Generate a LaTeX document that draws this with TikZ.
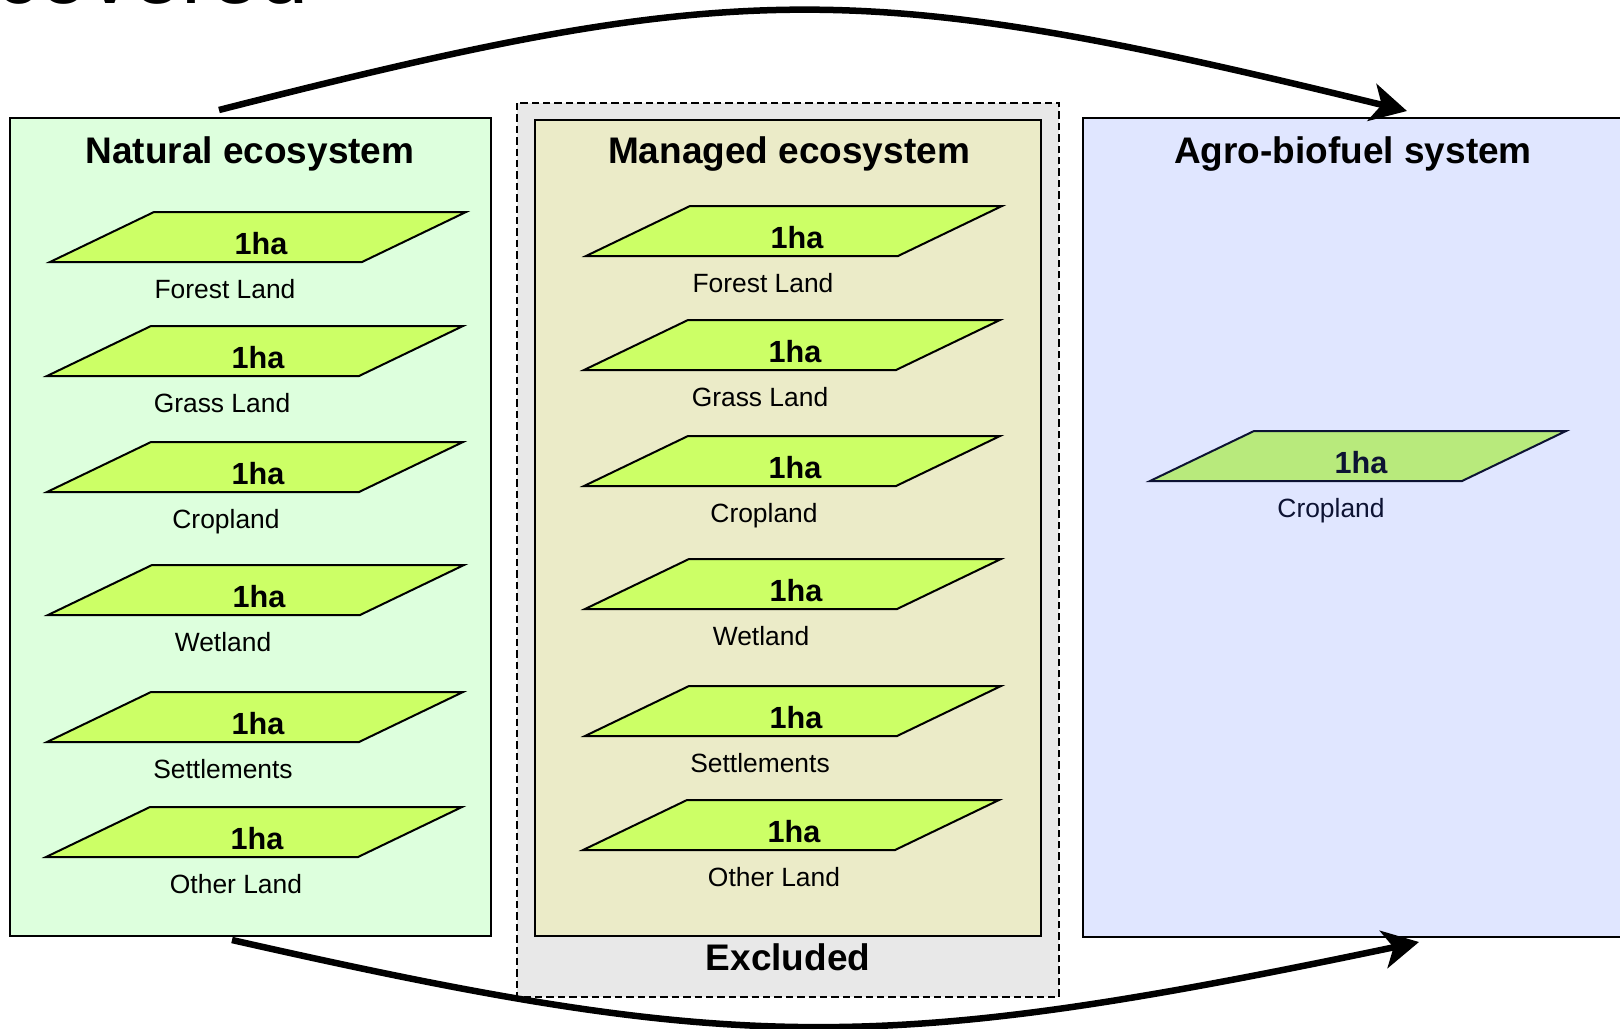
\documentclass[tikz,border=0pt]{standalone}
\usepackage{fontspec}
\setmainfont{Liberation Sans}
\usepackage{tikz}
\usetikzlibrary{arrows.meta}
\definecolor{naturalGreen}{HTML}{DDFFDD}
\definecolor{managedBeige}{HTML}{EBEBC8}
\definecolor{excludedGray}{HTML}{E8E8E8}
\definecolor{agroBlue}{HTML}{E0E6FF}
\definecolor{plotGreen}{HTML}{CCFF66}
\definecolor{agroGreen}{HTML}{B8EA7C}
\definecolor{agroInk}{HTML}{0D1333}
% #1 name, #2 x, #3 y of the lower left corner, #4 land type, #5 label shift
\newcommand{\landplot}[5]{%
	\draw[plot edge] (#2,#3) -- ++(104,-50) -- ++(312,0) -- ++(-104,50) -- cycle;
	\node[ha text] (#1ha) at (#2+211,#3-7.5) {1ha};
	\node[land text] (#1) at (#2+#5,#3+36) {#4};
}

\begin{document}
\begin{tikzpicture}[x=0.5pt, y=-0.5pt,
		box edge/.style={draw=black, line width=1pt},
		plot edge/.style={draw=black, fill=plotGreen, line width=1pt, line join=miter},
		ha text/.style={anchor=base, inner sep=0pt, font=\fontsize{15.3}{18}\selectfont\bfseries},
		land text/.style={anchor=base, inner sep=0pt, font=\fontsize{13.2}{16}\selectfont},
		box title/.style={anchor=base, inner sep=0pt, font=\fontsize{18.5}{22}\selectfont\bfseries},
		flow/.style={line width=3.25pt, -{Stealth[length=18pt, width=19pt, inset=5pt]}}]
	\useasboundingbox (0,0) rectangle (1620,1028);
	\node[anchor=base west, inner sep=0pt, font=\fontsize{44}{50}\selectfont] (heading) at (-5,3.5) {covered};
	% the three systems
	\filldraw[box edge, fill=naturalGreen] (10,118) rectangle (491,936);
	\filldraw[fill=excludedGray, draw=black, line width=1pt, dash pattern=on 3.7pt off 2pt] (517,103) rectangle (1059,997);
	\filldraw[box edge, fill=managedBeige] (535,120) rectangle (1041,936);
	\filldraw[box edge, fill=agroBlue] (1083,118) rectangle (1630,937);
	\node[box title] (natural) at (250,163) {Natural ecosystem};
	\node[box title] (managed) at (789,163) {Managed ecosystem};
	\node[box title] (agro) at (1353,163) {Agro-biofuel system};
	\node[box title] (excluded) at (788,970) {Excluded};
	% land plots
	\landplot{nforest}{50}{262}{Forest Land}{175}
	\landplot{ngrass}{47}{376}{Grass Land}{175}
	\landplot{ncrop}{47}{492}{Cropland}{179}
	\landplot{nwet}{48}{615}{Wetland}{175}
	\landplot{nsettle}{47}{742}{Settlements}{176}
	\landplot{nother}{46}{857}{Other Land}{190}
	\landplot{mforest}{586}{256}{Forest Land}{177}
	\landplot{mgrass}{584}{370}{Grass Land}{176}
	\landplot{mcrop}{584}{486}{Cropland}{180}
	\landplot{mwet}{585}{609}{Wetland}{176}
	\landplot{msettle}{585}{736}{Settlements}{175}
	\landplot{mother}{583}{850}{Other Land}{191}
	\begin{scope}[plot edge/.append style={draw=agroInk, fill=agroGreen},
			ha text/.append style={text=agroInk}, land text/.append style={text=agroInk}]
		\landplot{acrop}{1150}{481}{Cropland}{181}
	\end{scope}
	% conversion arrows
	\coordinate (topfrom) at (219,110);
	\coordinate (topto) at (1407,111);
	\coordinate (botfrom) at (232,940);
	\coordinate (botto) at (1419,942);
	\draw[flow] (topfrom) .. controls (740,-23) and (860,-23) .. (topto);
	\draw[flow] (botfrom) .. controls (740,1055) and (880,1055) .. (botto);
\end{tikzpicture}
\end{document}
